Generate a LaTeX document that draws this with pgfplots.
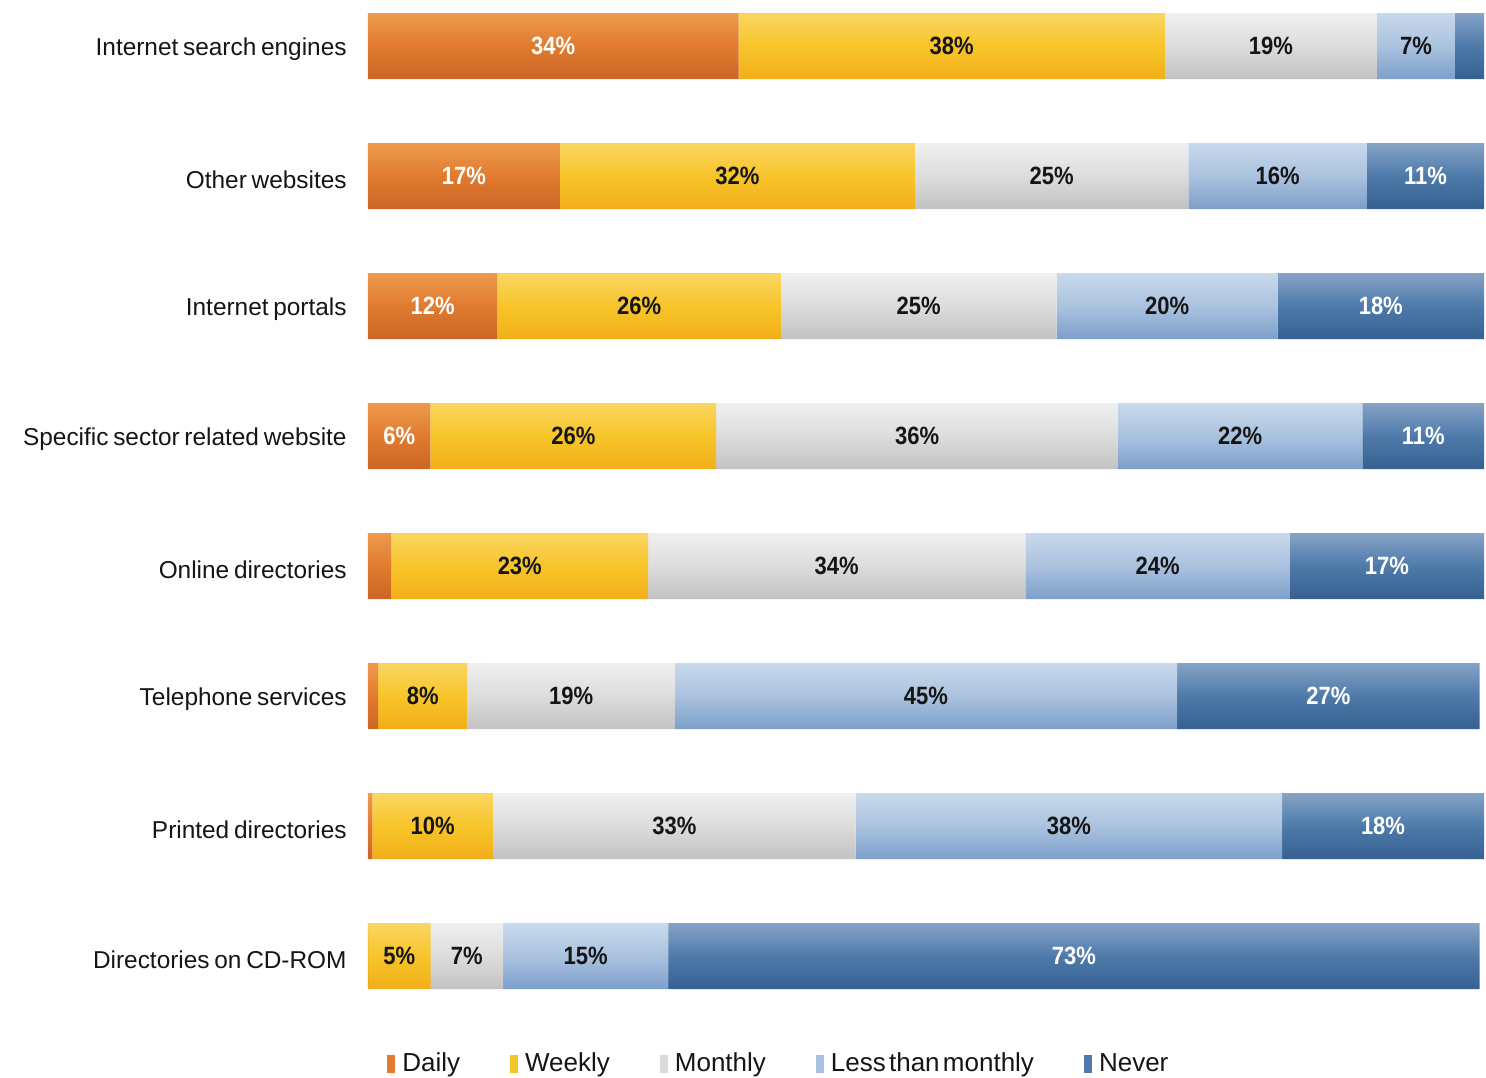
\documentclass[border=0pt]{standalone}
\usepackage{pgfplots}
\pgfplotsset{compat=1.18}
\usepackage{fontspec}
\setmainfont{Liberation Sans}[WordSpace=0.7]
\newfontfamily\barfont{Liberation Sans}[FakeStretch=0.88]
\newfontfamily\legfont{Liberation Sans}[WordSpace=0.45]
\definecolor{dailyT}{HTML}{EE9A4E}\definecolor{dailyM}{HTML}{E07B2F}\definecolor{dailyB}{HTML}{CC6526}
\definecolor{weekT}{HTML}{FAD562}\definecolor{weekM}{HTML}{F7C52A}\definecolor{weekB}{HTML}{F2AE1A}
\definecolor{monT}{HTML}{F0F0F0}\definecolor{monM}{HTML}{DCDCDC}\definecolor{monB}{HTML}{C2C2C2}
\definecolor{ltmT}{HTML}{C9D9EB}\definecolor{ltmM}{HTML}{AAC2DF}\definecolor{ltmB}{HTML}{7C9FC9}
\definecolor{nevT}{HTML}{86A3C6}\definecolor{nevM}{HTML}{4E7AAA}\definecolor{nevB}{HTML}{36608F}
\definecolor{lbl}{HTML}{151515}
% one vertical gradient per bar row (8 rows), mapped onto the plot's bar path
\newcommand\mkshade[4]{%
 \pgfdeclareverticalshading{#1}{100bp}{color(0bp)=(#2); color(25bp)=(#2); color(26.69bp)=(#3); color(28.38bp)=(#4);
 color(31.66bp)=(#2); color(33.35bp)=(#3); color(35.04bp)=(#4);
 color(38.32bp)=(#2); color(40.01bp)=(#3); color(41.70bp)=(#4);
 color(44.98bp)=(#2); color(46.67bp)=(#3); color(48.36bp)=(#4);
 color(51.64bp)=(#2); color(53.33bp)=(#3); color(55.02bp)=(#4);
 color(58.30bp)=(#2); color(59.99bp)=(#3); color(61.68bp)=(#4);
 color(64.96bp)=(#2); color(66.65bp)=(#3); color(68.34bp)=(#4);
 color(71.62bp)=(#2); color(73.31bp)=(#3); color(75bp)=(#4); color(100bp)=(#4)}}
\mkshade{dailyS}{dailyB}{dailyM}{dailyT}
\mkshade{weekS}{weekB}{weekM}{weekT}
\mkshade{monS}{monB}{monM}{monT}
\mkshade{ltmS}{ltmB}{ltmM}{ltmT}
\mkshade{nevS}{nevB}{nevM}{nevT}
% flat legend swatch drawn with the basic layer (not affected by the plot's shading)
\newcommand\swatch[1]{\pgfsetfillcolor{#1}\pgfpathrectangle{\pgfpoint{0pt}{-4.5pt}}{\pgfpoint{4pt}{9pt}}\pgfusepath{fill}%
  \pgfpathmoveto{\pgfpoint{5.5pt}{0pt}}\pgfusepath{}}
\pgfplotsset{
  common/.style={
    at={(0,0)}, anchor=south west,
    scale only axis, width=558pt, height=488pt,
    xmin=0, xmax=100,
    ymin=0.746, ymax=8.254, y dir=reverse,
    clip=false,
  },
}
\begin{document}
\begin{tikzpicture}
\useasboundingbox (-184pt,-44pt) rectangle (559pt,494.5pt);
\begin{axis}[
  common,
  xbar stacked, bar width=33pt,
  ytick={1,...,8},
  yticklabels={Internet search engines, Other websites, Internet portals, Specific sector related website, Online directories, Telephone services, Printed directories, Directories on CD-ROM},
  xtick=\empty,
  axis line style={draw=none},
  major tick length=0pt,
  yticklabel style={inner sep=0pt, xshift=-10.5pt, yshift=-1.8pt, font=\fontsize{12.2}{14}\selectfont, text=lbl},
  legend columns=5,
  legend style={at={(axis description cs:0.017,-0.0768)}, anchor=west, draw=none, fill=none, inner sep=0pt,
    /tikz/every even column/.append style={column sep=23pt},
    font=\legfont\fontsize{13}{15}\selectfont, text=lbl},
  legend cell align=left,
]
\addplot[draw=none, shade, shading=dailyS, legend image code/.code={\swatch{dailyM}}] coordinates {
 (33.2,1) (17.2,2) (11.6,3) (5.6,4) (2.1,5) (0.9,6) (0.4,7) (0.01,8)};
\addplot[draw=none, shade, shading=weekS, legend image code/.code={\swatch{weekM}}] coordinates {
 (38.2,1) (31.8,2) (25.4,3) (25.6,4) (23.0,5) (8.0,6) (10.8,7) (5.6,8)};
\addplot[draw=none, shade, shading=monS, legend image code/.code={\swatch{monM}}] coordinates {
 (19.0,1) (24.5,2) (24.7,3) (36.0,4) (33.8,5) (18.6,6) (32.5,7) (6.5,8)};
\addplot[draw=none, shade, shading=ltmS, legend image code/.code={\swatch{ltmM}}] coordinates {
 (7.0,1) (16.0,2) (19.8,3) (21.9,4) (23.7,5) (45.0,6) (38.2,7) (14.8,8)};
\addplot[draw=none, shade, shading=nevS, legend image code/.code={\swatch{nevM}}] coordinates {
 (2.6,1) (10.5,2) (18.5,3) (10.9,4) (17.4,5) (27.1,6) (18.1,7) (72.7,8)};
\legend{Daily, Weekly, Monthly, Less than monthly, Never}
\end{axis}
% value labels at the middle of each segment
\begin{axis}[
  common, hide axis,
  point meta=explicit symbolic,
  nodes near coords={\pgfplotspointmeta},
  every node near coord/.append style={anchor=center, inner sep=0pt, font=\barfont\bfseries\fontsize{12.5}{14}\selectfont},
]
\addplot[draw=none, mark=none, every node near coord/.append style={text=white}] coordinates {
 (16.6,1) [34\%] (8.6,2) [17\%] (5.8,3) [12\%] (2.8,4) [6\%]
 (94.75,2) [11\%] (90.75,3) [18\%] (94.55,4) [11\%] (91.3,5) [17\%] (86.05,6) [27\%] (90.95,7) [18\%] (63.25,8) [73\%]};
\addplot[draw=none, mark=none, every node near coord/.append style={text=lbl}] coordinates {
 (52.3,1) [38\%] (33.1,2) [32\%] (24.3,3) [26\%] (18.4,4) [26\%] (13.6,5) [23\%] (4.9,6) [8\%] (5.8,7) [10\%] (2.8,8) [5\%]
 (80.9,1) [19\%] (61.25,2) [25\%] (49.35,3) [25\%] (49.2,4) [36\%] (42.0,5) [34\%] (18.2,6) [19\%] (27.45,7) [33\%] (8.85,8) [7\%]
 (93.9,1) [7\%] (81.5,2) [16\%] (71.6,3) [20\%] (78.15,4) [22\%] (70.75,5) [24\%] (50.0,6) [45\%] (62.8,7) [38\%] (19.5,8) [15\%]};
\end{axis}
\end{tikzpicture}
\end{document}
